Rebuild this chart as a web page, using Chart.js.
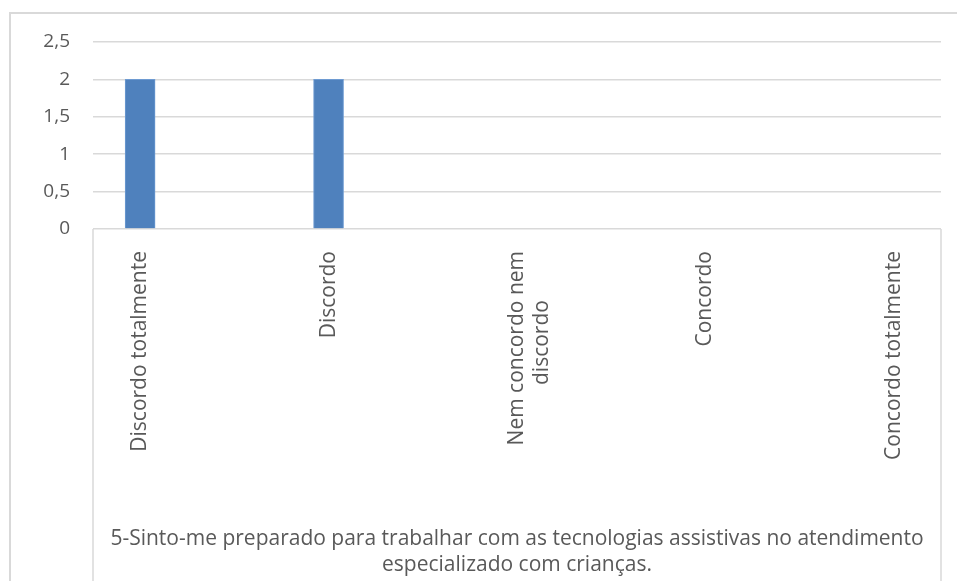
<!DOCTYPE html>
<html>
<head>
<meta charset="utf-8">
<script src="https://cdn.jsdelivr.net/npm/chart.js@4/dist/chart.umd.min.js"></script>
<style>
  html, body { margin: 0; padding: 0; background: #ffffff; overflow: hidden; }
  #wrap { position: relative; width: 957px; height: 581px; overflow: hidden; }
  #frame { position: absolute; left: 9px; top: 12px; width: 1000px; height: 700px; border: 2px solid #D9D9D9; box-sizing: border-box; }
  #c { position: absolute; left: 0; top: 0; }
</style>
</head>
<body>
<div id="wrap">
  <div id="frame"></div>
  <canvas id="c" width="957" height="581"></canvas>
</div>
<script>
const categories = [
  'Discordo totalmente',
  'Discordo',
  ['Nem concordo nem', 'discordo\u00A0\u00A0\u00A0\u00A0\u00A0\u00A0\u00A0\u00A0\u00A0'],
  'Concordo',
  'Concordo totalmente'
];
const values = [2, 2, 0, 0, 0];
const yMin = 0, yMax = 2.5, yStep = 0.5;
const axisTitle = [
  '5-Sinto-me preparado para trabalhar com as tecnologias assistivas no atendimento',
  'especializado com crianças.'
];

const textColor = '#595959';
const gridColor = '#D9D9D9';
const barColor = '#4F81BD';
const fontFamily = '"Open Sans", "Noto Sans", sans-serif';

const lowerFrame = {
  id: 'lowerFrame',
  afterDraw(chart) {
    const { ctx, chartArea } = chart;
    ctx.save();
    ctx.strokeStyle = gridColor;
    ctx.lineWidth = 1.5;
    ctx.beginPath();
    ctx.moveTo(chartArea.left, chartArea.bottom);
    ctx.lineTo(chartArea.left, chart.height);
    ctx.moveTo(chartArea.right, chartArea.bottom);
    ctx.lineTo(chartArea.right, chart.height);
    ctx.stroke();
    ctx.restore();
  }
};

const hasValue = ctx => !!(ctx.raw && ctx.raw.y);

new Chart(document.getElementById('c'), {
  type: 'bar',
  data: {
    datasets: [{
      data: values.map((v, i) => ({ x: i, y: v })),
      backgroundColor: ctx => (hasValue(ctx) ? barColor : 'rgba(0,0,0,0)'),
      borderColor: ctx => (hasValue(ctx) ? '#6E9BD2' : 'rgba(0,0,0,0)'),
      borderWidth: ctx => (hasValue(ctx) ? 1 : 0),
      barThickness: 30
    }]
  },
  options: {
    responsive: false,
    animation: false,
    layout: { padding: { top: 42, right: 16, bottom: 0, left: 0 } },
    plugins: { legend: { display: false }, tooltip: { enabled: false } },
    scales: {
      x: {
        type: 'linear',
        offset: false,
        min: -0.25,
        max: 4.25,
        afterBuildTicks: s => { s.ticks = categories.map((c, i) => ({ value: i })); },
        afterFit: s => { s.height = 352; },
        grid: { display: false, drawTicks: false },
        border: { display: false },
        ticks: {
          autoSkip: false,
          minRotation: 90,
          maxRotation: 90,
          padding: 22,
          color: textColor,
          font: { family: fontFamily, size: 21 },
          callback: v => categories[v]
        },
        title: {
          display: true,
          text: axisTitle,
          color: textColor,
          font: { family: fontFamily, size: 21, lineHeight: '26px' },
          padding: { top: 0, bottom: 3 }
        }
      },
      y: {
        min: yMin,
        max: yMax,
        afterFit: s => { s.width = 93; },
        grid: { color: gridColor, lineWidth: 1.5, drawTicks: false },
        border: { display: false },
        ticks: {
          stepSize: yStep,
          padding: 23,
          color: textColor,
          font: { family: fontFamily, size: 19 },
          callback: v => String(v).replace('.', ',')
        }
      }
    }
  },
  plugins: [lowerFrame]
});
</script>
</body>
</html>
